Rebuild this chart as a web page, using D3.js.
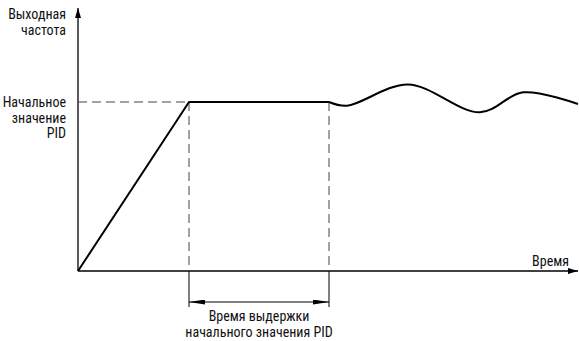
<!DOCTYPE html>
<html>
<head>
<meta charset="utf-8">
<script src="https://cdn.jsdelivr.net/npm/d3@7"></script>
<style>
  body { margin: 0; background: #fff; }
  text { font-family: "Liberation Sans Narrow", "Arial Narrow", "Roboto Condensed", Roboto, sans-serif; font-size: 14px; fill: #111; }
</style>
</head>
<body>
<div id="chart"></div>
<script>
// time (relative units) and output level (1 = initial PID value)
const rampTime = [0, 111];
const rampLevel = [0, 1];
const holdTime = [111, 251];
const holdLevel = [1, 1];
const waveTime = [251, 269, 330, 402, 445, 500];
const waveLevel = [1, 0.978, 1.104, 0.939, 1.057, 0.988];
const yLabel = ['Выходная', 'частота'];
const levelLabel = ['Начальное', 'значение', 'PID'];
const xLabel = 'Время';
const holdLabel = ['Время выдержки', 'начального значения PID'];

const W = 579, H = 341;
const svg = d3.select('#chart').append('svg').attr('width', W).attr('height', H);

const x = d3.scaleLinear().domain([0, 500]).range([78, 578]);
const y = d3.scaleLinear().domain([0, 1]).range([271, 102]);

const defs = svg.append('defs');
defs.append('marker').attr('id', 'arr').attr('viewBox', '0 0 10 6')
    .attr('refX', 10).attr('refY', 3).attr('markerWidth', 10).attr('markerHeight', 6)
    .attr('markerUnits', 'userSpaceOnUse').attr('orient', 'auto-start-reverse')
    .append('path').attr('d', 'M0,0L10,3L0,6Z').attr('fill', '#000');
defs.append('marker').attr('id', 'arrS').attr('viewBox', '0 0 16 5')
    .attr('refX', 16).attr('refY', 2.5).attr('markerWidth', 16).attr('markerHeight', 5)
    .attr('markerUnits', 'userSpaceOnUse').attr('orient', 'auto-start-reverse')
    .append('path').attr('d', 'M0,0L16,2.5L0,5Z').attr('fill', '#000');

// axes
svg.append('line').attr('x1', x(0)).attr('y1', y(0)).attr('x2', x(0)).attr('y2', 8)
   .attr('stroke', '#000').attr('stroke-width', 1.3).attr('marker-end', 'url(#arr)');
svg.append('line').attr('x1', x(0)).attr('y1', y(0)).attr('x2', x(500)).attr('y2', y(0))
   .attr('stroke', '#000').attr('stroke-width', 1.3).attr('marker-end', 'url(#arr)');

// dashed guides
const dash = svg.append('g').attr('stroke', '#444').attr('stroke-width', 1).attr('stroke-dasharray', '9,5');
dash.append('line').attr('x1', x(0)).attr('x2', x(holdTime[0])).attr('y1', y(1)).attr('y2', y(1));
dash.append('line').attr('x1', x(holdTime[0])).attr('x2', x(holdTime[0])).attr('y1', y(1)).attr('y2', y(0));
dash.append('line').attr('x1', x(holdTime[1])).attr('x2', x(holdTime[1])).attr('y1', y(1)).attr('y2', y(0));

// extension lines under axis and dimension arrow
svg.append('g').attr('stroke', '#000').attr('stroke-width', 1)
   .selectAll('line').data(holdTime).join('line')
   .attr('x1', d => x(d)).attr('x2', d => x(d)).attr('y1', y(0)).attr('y2', 307);
svg.append('line').attr('x1', x(holdTime[0])).attr('x2', x(holdTime[1])).attr('y1', 302).attr('y2', 302)
   .attr('stroke', '#000').attr('stroke-width', 1.2)
   .attr('marker-start', 'url(#arrS)').attr('marker-end', 'url(#arrS)');

// output curve
const line = d3.line().x(d => x(d[0])).y(d => y(d[1]));
const straight = rampTime.map((t, i) => [t, rampLevel[i]]).concat(holdTime.slice(1).map((t, i) => [t, holdLevel[i + 1]]));
svg.append('path').datum(straight).attr('d', line)
   .attr('fill', 'none').attr('stroke', '#000').attr('stroke-width', 2).attr('stroke-linejoin', 'round');
svg.append('path').datum(waveTime.map((t, i) => [t, waveLevel[i]]))
   .attr('d', line.curve(d3.curveCatmullRom.alpha(0.5)))
   .attr('fill', 'none').attr('stroke', '#000').attr('stroke-width', 2);

// labels
svg.append('text').attr('text-anchor', 'end').attr('x', 66).attr('y', 19)
   .selectAll('tspan').data(yLabel).join('tspan').attr('x', 66).attr('dy', (d, i) => i ? 16 : 0).text(d => d);
svg.append('text').attr('text-anchor', 'end').attr('x', 66).attr('y', y(1) + 5)
   .selectAll('tspan').data(levelLabel).join('tspan').attr('x', 66).attr('dy', (d, i) => i ? 15.5 : 0).text(d => d);
svg.append('text').attr('text-anchor', 'end').attr('x', 569).attr('y', 266).text(xLabel);
svg.append('text').attr('text-anchor', 'middle').attr('y', 321)
   .selectAll('tspan').data(holdLabel).join('tspan').attr('x', x((holdTime[0] + holdTime[1]) / 2))
   .attr('dy', (d, i) => i ? 16 : 0).text(d => d);
</script>
</body>
</html>
